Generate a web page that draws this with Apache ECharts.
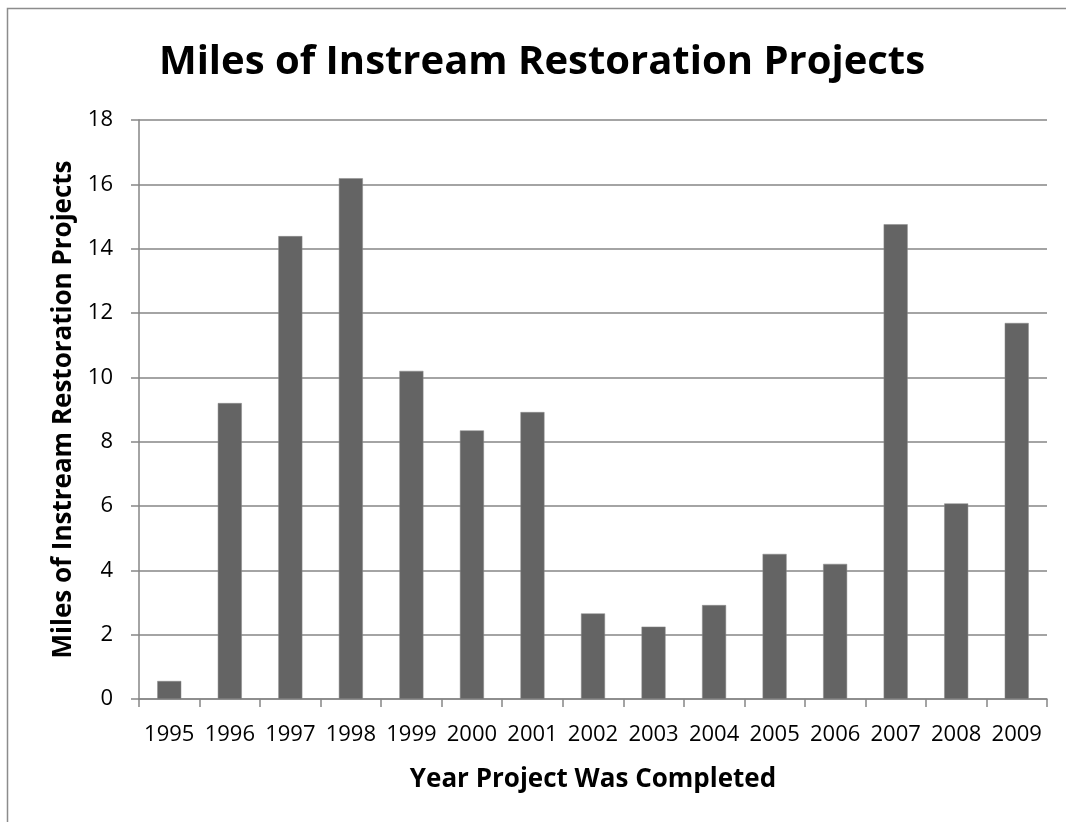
<!DOCTYPE html>
<html>
<head>
<meta charset="utf-8">
<script src="https://cdn.jsdelivr.net/npm/echarts@6/dist/echarts.min.js"></script>
<style>
html,body{margin:0;padding:0;background:#fff;}
#chart{width:1066px;height:822px;}
</style>
</head>
<body>
<div id="chart"></div>
<script>
var years = ['1995','1996','1997','1998','1999','2000','2001','2002','2003','2004','2005','2006','2007','2008','2009'];
var miles = [0.56, 9.2, 14.39, 16.19, 10.2, 8.35, 8.92, 2.66, 2.25, 2.92, 4.51, 4.2, 14.76, 6.08, 11.69];
var yTicks = [0, 2, 4, 6, 8, 10, 12, 14, 16, 18];
var titleText = 'Miles of Instream Restoration Projects';
var xName = 'Year Project Was Completed';
var yName = 'Miles of Instream Restoration Projects';

var chart = echarts.init(document.getElementById('chart'));
var font = '"Open Sans", "Noto Sans", sans-serif';
chart.setOption({
  backgroundColor: '#fff',
  animation: false,
  graphic: [{
    type: 'rect',
    shape: {x: 7.5, y: 8.5, width: 1200, height: 1000},
    style: {fill: 'none', stroke: '#8c8c8c', lineWidth: 1.5},
    silent: true
  }],
  title: {
    text: titleText,
    left: 537,
    textAlign: 'center',
    top: 38,
    textStyle: {fontFamily: font, fontWeight: 'bold', fontSize: 40, color: '#000'}
  },
  grid: {left: 139, top: 120, width: 908, height: 579, containLabel: false},
  xAxis: {
    type: 'category',
    data: years,
    name: xName,
    nameLocation: 'middle',
    nameGap: 68,
    nameTextStyle: {fontFamily: font, fontWeight: 'bold', fontSize: 26, color: '#000'},
    axisLine: {lineStyle: {color: '#868686', width: 1.5}},
    axisTick: {show: true, length: 8, lineStyle: {color: '#868686', width: 1.5}},
    axisLabel: {fontFamily: font, fontSize: 22, color: '#000', margin: 25, interval: 0}
  },
  yAxis: {
    type: 'value',
    min: yTicks[0], max: yTicks[yTicks.length - 1], interval: yTicks[1] - yTicks[0],
    name: yName,
    nameLocation: 'middle',
    nameGap: 60,
    nameTextStyle: {fontFamily: font, fontWeight: 'bold', fontSize: 26, color: '#000'},
    axisLine: {show: true, lineStyle: {color: '#868686', width: 1.5}},
    axisTick: {show: true, length: 8, lineStyle: {color: '#868686', width: 1.5}},
    axisLabel: {fontFamily: font, fontSize: 22, color: '#000', margin: 26},
    splitLine: {show: true, lineStyle: {color: '#868686', width: 1.5}}
  },
  series: [{
    type: 'bar',
    data: miles,
    barWidth: 24,
    itemStyle: {color: '#646464', borderColor: '#8a8a8a', borderWidth: 0.5}
  }]
});
</script>
</body>
</html>
